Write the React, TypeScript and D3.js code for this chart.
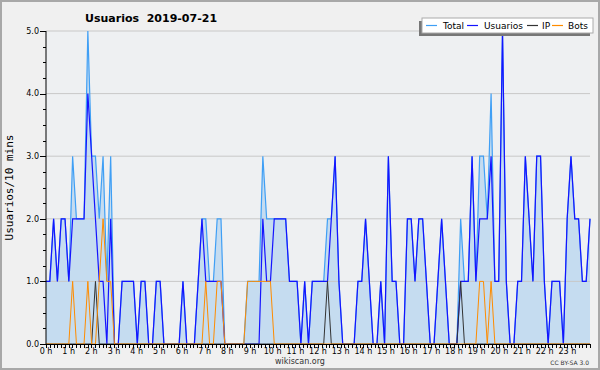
import React from 'react';
import * as d3 from 'd3';

const usuarios = [
  1,1,2,1,2,2,1,2,2,2,2,4,3,2,1,1,0,2,0,0,1,1,1,1,0,1,1,0,0,1,1,0,0,0,0,0,
  1,0,0,0,1,2,1,1,1,1,1,0,0,0,0,0,0,0,0,0,0,2,1,1,2,2,2,2,1,1,1,0,1,0,1,1,
  1,1,1,2,3,1,0,0,0,0,1,1,2,1,0,0,1,0,3,1,1,0,0,2,2,1,2,2,1,0,0,1,2,1,0,0,
  0,1,1,1,3,1,2,2,2,3,1,1,5,1,0,0,1,1,3,2,1,3,3,1,0,1,1,1,0,2,3,2,2,1,1,2
];
const total = [
  1,1,2,1,2,2,1,3,2,2,2,5,3,3,2,3,1,3,0,0,1,1,1,1,0,1,1,0,0,1,1,0,0,0,0,0,
  1,0,0,0,1,2,2,1,1,2,2,0,0,0,0,0,0,1,1,1,1,3,2,2,2,2,2,2,1,1,1,0,1,0,1,1,
  1,1,2,2,3,1,0,0,0,0,1,1,2,1,0,0,1,0,3,1,1,0,0,2,2,1,2,2,1,0,0,1,2,1,0,0,
  0,2,1,1,3,1,3,3,2,4,1,1,5,1,0,0,1,1,3,2,1,3,3,1,0,1,1,1,0,2,3,2,2,1,1,2
];
const ip = [
  0,0,0,0,0,0,0,0,0,0,0,0,0,1,0,0,0,0,0,0,0,0,0,0,0,0,0,0,0,0,0,0,0,0,0,0,
  0,0,0,0,0,0,0,0,0,0,0,0,0,0,0,0,0,0,0,0,0,0,0,0,0,0,0,0,0,0,0,0,0,0,0,0,
  0,0,1,0,0,0,0,0,0,0,0,0,0,0,0,0,0,0,0,0,0,0,0,0,0,0,0,0,0,0,0,0,0,0,0,0,
  0,1,0,0,0,0,0,0,0,0,0,0,0,0,0,0,0,0,0,0,0,0,0,0,0,0,0,0,0,0,0,0,0,0,0,0
];
const bots = [
  0,0,0,0,0,0,0,1,0,0,0,1,0,0,1,2,1,1,0,0,0,0,0,0,0,0,0,0,0,0,0,0,0,0,0,0,
  0,0,0,0,0,0,1,0,0,1,1,0,0,0,0,0,0,1,1,1,1,1,1,1,0,0,0,0,0,0,0,0,0,0,0,0,
  0,0,0,0,0,0,0,0,0,0,0,0,0,0,0,0,0,0,0,0,0,0,0,0,0,0,0,0,0,0,0,0,0,0,0,0,
  0,0,0,0,0,0,1,1,0,1,0,0,0,0,0,0,0,0,0,0,0,0,0,0,0,0,0,0,0,0,0,0,0,0,0,0
];
const yTickValues = [0, 1, 2, 3, 4, 5];
const hours = d3.range(0, 24);
const legendItems = [
  { label: 'Total', color: '#3f9ff5' },
  { label: 'Usuarios', color: '#1414ff' },
  { label: 'IP', color: '#333333' },
  { label: 'Bots', color: '#ff8c00' },
];
const title = 'Usuarios  2019-07-21';
const yTitle = 'Usuarios/10 mins';

export default function App() {
  const W = 600, H = 370;
  const L = 46, R = 590, T = 31, B = 344;
  const x = d3.scaleLinear().domain([0, usuarios.length - 1]).range([L, R]);
  const xt = d3.scaleLinear().domain([0, 144]).range([L, R]);
  const y = d3.scaleLinear().domain([0, 5]).range([B, T]);
  const line = d3.line<number>().x((d, i) => x(i)).y(d => y(d));
  const area = d3.area<number>().x((d, i) => x(i)).y0(y(0)).y1(d => y(d));
  const minorY = d3.range(0, 5.001, 0.25);
  const minorX = d3.range(0, 145);
  const font = 'DejaVu Sans, sans-serif';

  const legX = 422, legY = 18, legW = 171, legH = 15;
  const legPos = [
    { lx: 426, tx: 443 },
    { lx: 467, tx: 484 },
    { lx: 527, tx: 542 },
    { lx: 552, tx: 568 },
  ];

  return (
    <svg width={W} height={H} style={{ position: 'fixed', left: 0, top: 0 }}>
      <rect x={0} y={0} width={W} height={H} fill="#f0f0f0" />
      <rect x={1} y={1} width={W - 2} height={H - 2} fill="none" stroke="#a8a8a8" strokeWidth={2} />
      <rect x={L} y={T} width={R - L} height={B - T} fill="#eef0f2" />
      <path d={area(total) || ''} fill="#c5dcf0" />
      {yTickValues.filter(v => v > 0).map(v => (
        <line key={'g' + v} x1={L} x2={R} y1={y(v)} y2={y(v)} stroke="#c8c8c8" strokeWidth={1} />
      ))}
      <path d={line(total) || ''} fill="none" stroke="#3f9ff5" strokeWidth={1.2} />
      <path d={line(usuarios) || ''} fill="none" stroke="#1414ff" strokeWidth={1.2} />
      <path d={line(ip) || ''} fill="none" stroke="#333333" strokeWidth={1} />
      <path d={line(bots) || ''} fill="none" stroke="#ff8c00" strokeWidth={1} />

      {/* axes */}
      <line x1={L} x2={L} y1={T} y2={B} stroke="#000" strokeWidth={1} />
      <line x1={L} x2={R} y1={B + 0.5} y2={B + 0.5} stroke="#000" strokeWidth={1} />
      {minorY.map(v => (
        <line key={'my' + v} x1={L - 3} x2={L} y1={Math.round(y(v)) + 0.5} y2={Math.round(y(v)) + 0.5} stroke="#000" />
      ))}
      {yTickValues.map(v => (
        <g key={'yt' + v}>
          <line x1={L - 6} x2={L} y1={Math.round(y(v)) + 0.5} y2={Math.round(y(v)) + 0.5} stroke="#000" />
          <text x={L - 7} y={y(v)} dy="0.35em" textAnchor="end" fontFamily={font} fontSize={8} fill="#000">
            {v.toFixed(1)}
          </text>
        </g>
      ))}
      {minorX.map(m => (
        <line key={'mx' + m} x1={Math.round(xt(m)) + 0.5} x2={Math.round(xt(m)) + 0.5} y1={B} y2={B + 4} stroke="#000" />
      ))}
      {hours.map(h => (
        <text key={'h' + h} x={xt(h * 6)} y={354} textAnchor="middle" fontFamily={font} fontSize={8} fill="#000">
          {h + ' h'}
        </text>
      ))}
      <text x={13} y={(T + B) / 2} transform={`rotate(-90 13 ${(T + B) / 2})`} textAnchor="middle"
        fontFamily="DejaVu Sans Mono, monospace" fontSize={11} fill="#000">{yTitle}</text>
      <text x={85} y={22} fontFamily={font} fontWeight="bold" fontSize={11} fill="#000" style={{ whiteSpace: 'pre' }}>{title}</text>
      <text x={300} y={364} textAnchor="middle" fontFamily={font} fontSize={8} fill="#333">wikiscan.org</text>
      <text x={589} y={365} textAnchor="end" fontFamily={font} fontSize={6} fill="#333">CC BY-SA 3.0</text>

      {/* legend */}
      <rect x={legX - 3} y={legY + 3} width={legW} height={legH} fill="#777" />
      <rect x={legX} y={legY} width={legW} height={legH} fill="#ffffff" stroke="#aaaaaa" strokeWidth={1} />
      {legendItems.map((it, k) => (
        <g key={it.label}>
          <line x1={legPos[k].lx} x2={legPos[k].lx + 11} y1={legY + 7.5} y2={legY + 7.5} stroke={it.color} strokeWidth={1.2} />
          <text x={legPos[k].tx} y={legY + 7.5} dy="0.35em" fontFamily={font} fontSize={9} fill="#000">{it.label}</text>
        </g>
      ))}
    </svg>
  );
}
